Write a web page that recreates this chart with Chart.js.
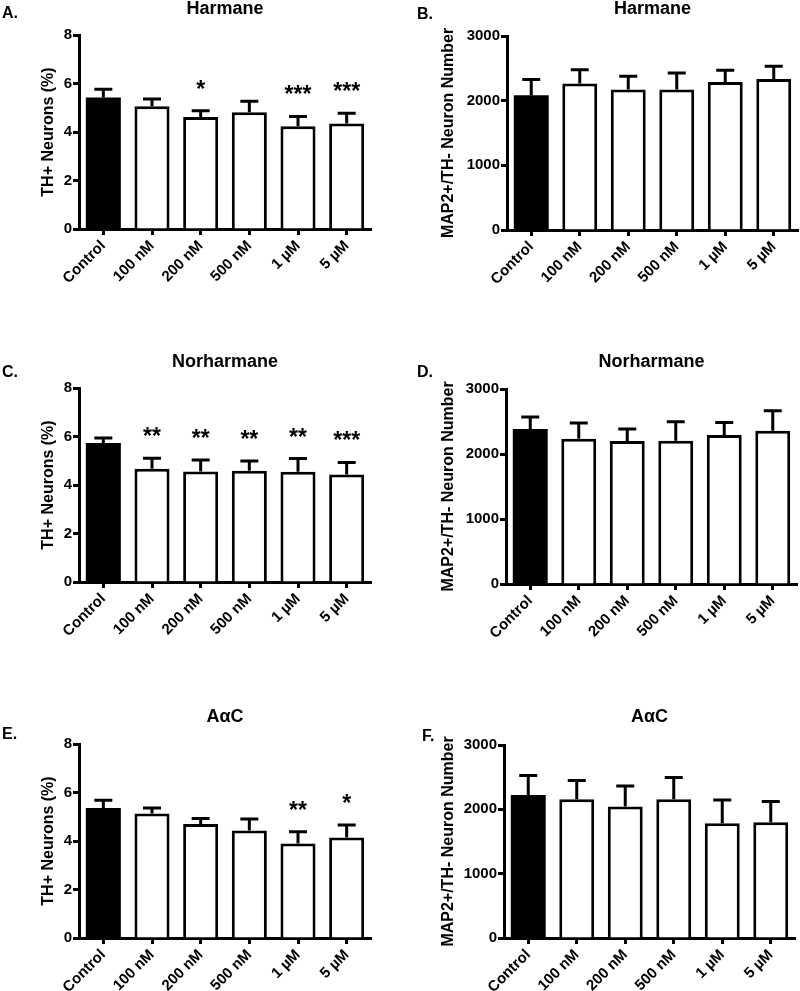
<!DOCTYPE html>
<html>
<head>
<meta charset="utf-8">
<script src="https://cdn.jsdelivr.net/npm/chart.js@4"></script>
<style>
  body { margin: 0; background: #fff; }
  #wrap { position: relative; width: 800px; height: 991px; }
  .panel { position: absolute; }
</style>
</head>
<body>
<div id="wrap"></div>
<script>
// doses on the x axis
const doses = ['Control', '100 nM', '200 nM', '500 nM', '1 µM', '5 µM'];
const thTicks = [0, 2, 4, 6, 8];
const map2Ticks = [0, 1000, 2000, 3000];

// Harmane
const harmaneTH = [5.42, 5.06, 4.62, 4.81, 4.24, 4.35];
const harmaneTHSem = [0.34, 0.30, 0.26, 0.46, 0.40, 0.42];
const harmaneTHStars = ['', '', '*', '', '***', '***'];
const harmaneMAP2 = [2084, 2264, 2172, 2172, 2290, 2336];
const harmaneMAP2Sem = [242, 216, 205, 257, 180, 196];

// Norharmane
const norharmaneTH = [5.73, 4.67, 4.56, 4.59, 4.55, 4.43];
const norharmaneTHSem = [0.21, 0.43, 0.47, 0.40, 0.54, 0.50];
const norharmaneTHStars = ['', '**', '**', '**', '**', '***'];
const norharmaneMAP2 = [2384, 2235, 2199, 2204, 2291, 2358];
const norharmaneMAP2Sem = [184, 241, 185, 293, 195, 308];

// AaC
const aacTH = [5.36, 5.13, 4.70, 4.43, 3.90, 4.14];
const aacTHSem = [0.32, 0.23, 0.23, 0.48, 0.48, 0.52];
const aacTHStars = ['', '', '', '', '**', '*'];
const aacMAP2 = [2224, 2157, 2043, 2157, 1784, 1800];
const aacMAP2Sem = [300, 290, 321, 336, 363, 321];

const FONT = "'Liberation Sans', Arial, Helvetica, sans-serif";

// error bars (up only), significance stars, panel title and letter
function panelExtras(p) {
  return {
    id: 'panelExtras',
    afterDatasetsDraw(chart) {
      const ctx = chart.ctx;
      const x = chart.scales.x, y = chart.scales.y;
      ctx.save();
      ctx.strokeStyle = '#000';
      ctx.fillStyle = '#000';
      ctx.lineWidth = 3;
      p.means.forEach((m, i) => {
        const px = x.getPixelForValue(i);
        const y0 = y.getPixelForValue(m);
        const y1 = y.getPixelForValue(m + p.sem[i]);
        ctx.beginPath();
        ctx.moveTo(px, y0);
        ctx.lineTo(px, y1);
        ctx.moveTo(px - 9, y1);
        ctx.lineTo(px + 9, y1);
        ctx.stroke();
        if (p.stars && p.stars[i]) {
          ctx.font = 'bold 23px ' + FONT;
          ctx.textAlign = 'center';
          ctx.textBaseline = 'alphabetic';
          ctx.fillText(p.stars[i], px, y1 - 14);
        }
      });
      const a = chart.chartArea;
      ctx.font = 'bold 18px ' + FONT;
      ctx.textAlign = 'center';
      ctx.textBaseline = 'middle';
      ctx.fillText(p.title, (a.left + a.right) / 2, p.titleY);
      ctx.font = 'bold 16px ' + FONT;
      ctx.textAlign = 'left';
      ctx.fillText(p.letter, p.letterX, p.letterY);
      ctx.restore();
    }
  };
}

function panel(p) {
  const div = document.createElement('div');
  div.className = 'panel';
  div.style.left = p.left + 'px';
  div.style.top = p.top + 'px';
  div.style.width = p.w + 'px';
  div.style.height = p.h + 'px';
  const canvas = document.createElement('canvas');
  div.appendChild(canvas);
  document.getElementById('wrap').appendChild(div);

  new Chart(canvas, {
    type: 'bar',
    data: {
      labels: doses,
      datasets: [{
        data: p.means,
        backgroundColor: doses.map((d, i) => i === 0 ? '#000' : '#fff'),
        borderColor: '#000',
        borderWidth: doses.map((d, i) => i === 0 ? 0 : 3),
        barPercentage: 0.72,
        categoryPercentage: 1
      }]
    },
    options: {
      responsive: true,
      maintainAspectRatio: false,
      animation: false,
      layout: { padding: { top: p.area.T, right: p.w - p.area.R, left: 0, bottom: 0 } },
      plugins: { legend: { display: false }, tooltip: { enabled: false } },
      scales: {
        x: {
          afterFit: s => { s.height = p.h - p.area.B; },
          grid: { drawOnChartArea: false, offset: false, tickLength: 6, tickWidth: 3, tickColor: '#000' },
          border: { color: '#000', width: 3 },
          ticks: {
            color: '#000', autoSkip: false, minRotation: 45, maxRotation: 45, padding: 2,
            font: { family: FONT, size: 15, weight: 'bold' }
          }
        },
        y: {
          min: 0,
          max: p.ticks[p.ticks.length - 1],
          afterFit: s => { s.width = p.area.L; },
          afterBuildTicks: s => { s.ticks = p.ticks.map(v => ({ value: v })); },
          grid: { drawOnChartArea: false, tickLength: 6, tickWidth: 3, tickColor: '#000' },
          border: { color: '#000', width: 3 },
          ticks: {
            color: '#000', padding: 1,
            callback: v => String(v),
            font: { family: FONT, size: 15, weight: 'bold' }
          },
          title: {
            display: true, text: p.ylabel, color: '#000',
            padding: { top: 39, bottom: 0 },
            font: { family: FONT, size: 16, weight: 'bold' }
          }
        }
      }
    },
    plugins: [panelExtras(p)]
  });
}

const TH_LABEL = 'TH+ Neurons (%)';
const MAP2_LABEL = 'MAP2+/TH- Neuron Number';

panel({ left: 0, top: 0, w: 400, h: 330, area: { L: 79, R: 371, T: 35, B: 229 },
  means: harmaneTH, sem: harmaneTHSem, stars: harmaneTHStars, ticks: thTicks, ylabel: TH_LABEL,
  title: 'Harmane', titleY: 9, letter: 'A.', letterX: 2, letterY: 14 });
panel({ left: 400, top: 0, w: 400, h: 330, area: { L: 107, R: 398, T: 36, B: 230 },
  means: harmaneMAP2, sem: harmaneMAP2Sem, stars: null, ticks: map2Ticks, ylabel: MAP2_LABEL,
  title: 'Harmane', titleY: 9, letter: 'B.', letterX: 17, letterY: 15 });
panel({ left: 0, top: 330, w: 400, h: 330, area: { L: 79, R: 371, T: 58, B: 252 },
  means: norharmaneTH, sem: norharmaneTHSem, stars: norharmaneTHStars, ticks: thTicks, ylabel: TH_LABEL,
  title: 'Norharmane', titleY: 32, letter: 'C.', letterX: 2, letterY: 43 });
panel({ left: 400, top: 330, w: 400, h: 330, area: { L: 106, R: 397, T: 59, B: 254 },
  means: norharmaneMAP2, sem: norharmaneMAP2Sem, stars: null, ticks: map2Ticks, ylabel: MAP2_LABEL,
  title: 'Norharmane', titleY: 32, letter: 'D.', letterX: 17, letterY: 43 });
panel({ left: 0, top: 660, w: 400, h: 331, area: { L: 79, R: 371, T: 84, B: 278 },
  means: aacTH, sem: aacTHSem, stars: aacTHStars, ticks: thTicks, ylabel: TH_LABEL,
  title: 'AαC', titleY: 57, letter: 'E.', letterX: 2, letterY: 75 });
panel({ left: 400, top: 660, w: 400, h: 331, area: { L: 104, R: 395, T: 85, B: 278 },
  means: aacMAP2, sem: aacMAP2Sem, stars: null, ticks: map2Ticks, ylabel: MAP2_LABEL,
  title: 'AαC', titleY: 57, letter: 'F.', letterX: 22, letterY: 77 });
</script>
</body>
</html>
